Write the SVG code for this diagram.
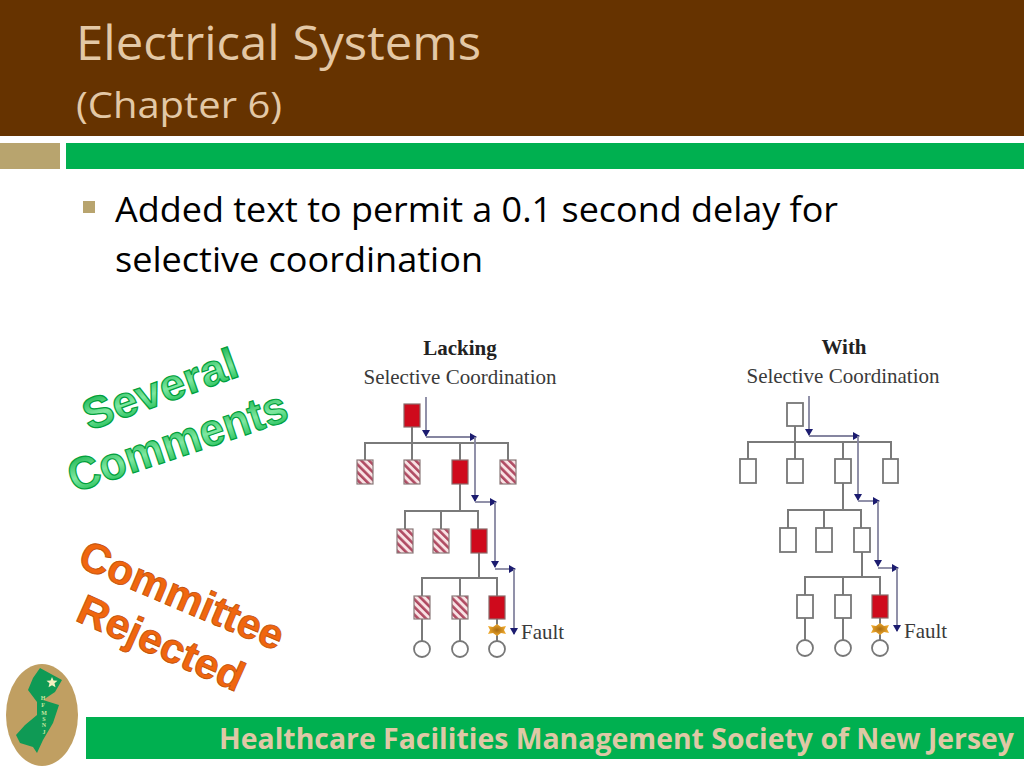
<svg xmlns="http://www.w3.org/2000/svg" width="1024" height="768" viewBox="0 0 1024 768">
<defs>
<style>
.body{font-family:"Open Sans","Liberation Sans",sans-serif}
.title{fill:#e3c8a6}
.serif{font-family:"Liberation Serif",serif;fill:#3a3a3a}
.w{fill:#fff;stroke:#777;stroke-width:1.8}
.r{fill:#cf0a1c;stroke:#8a6a6a;stroke-width:1.2}
.h{fill:url(#hatch);stroke:#8a7a7a;stroke-width:1.2}
.c{fill:#fff;stroke:#777;stroke-width:1.8}
.bus{fill:none;stroke:#7a7a7a;stroke-width:2}
.flow{fill:none;stroke:#8585a0;stroke-width:1.8;marker-end:url(#arr)}
.art{font-family:"Liberation Sans",sans-serif;font-weight:700}
.lt{font-family:"Liberation Serif",serif;font-size:6px;font-weight:700;fill:#c8e6a0;text-anchor:middle}
</style>
<marker id="arr" markerUnits="userSpaceOnUse" markerWidth="9" markerHeight="9" refX="6" refY="4" orient="auto"><path d="M0 0L7 4L0 8Z" fill="#1c1c70"/></marker>
<pattern id="hatch" width="5.5" height="5.5" patternUnits="userSpaceOnUse" patternTransform="rotate(-45)"><rect width="5.5" height="5.5" fill="#f8e2e4"/><rect width="2.6" height="5.5" fill="#b04a62"/></pattern>
<linearGradient id="gg" x1="0" y1="0" x2="0" y2="1"><stop offset="0" stop-color="#00a63c"/><stop offset=".55" stop-color="#7fe8a0"/><stop offset="1" stop-color="#00b040"/></linearGradient>
<radialGradient id="burst"><stop offset="0" stop-color="#a86a10"/><stop offset="1" stop-color="#efa92c"/></radialGradient>
</defs>
<rect width="1024" height="768" fill="#fff"/>
<g id="header">
<rect width="1024" height="136" fill="#663300"/>
<rect x="0" y="143" width="60" height="26" fill="#b8a46e"/>
<rect x="66" y="143" width="958" height="26" fill="#00b050"/>
<text class="body title" x="76" y="60" font-size="47" textLength="405" lengthAdjust="spacingAndGlyphs">Electrical Systems</text>
<text class="body title" x="76" y="118" font-size="37" textLength="206" lengthAdjust="spacingAndGlyphs">(Chapter 6)</text>
</g>
<g id="bullet">
<rect x="83" y="201" width="12" height="12" fill="#b8a46e"/>
<text class="body" x="115" y="222" font-size="34" fill="#000" textLength="723" lengthAdjust="spacingAndGlyphs">Added text to permit a 0.1 second delay for</text>
<text class="body" x="115" y="272" font-size="34" fill="#000" textLength="368" lengthAdjust="spacingAndGlyphs">selective coordination</text>
</g>
<g id="connectors">
<path class="bus" d="M412 427V443M365 460V443H508V460M412 443V460M460 443V460M460 484V511M405 529V511H478V529M441 511V529M479 553V578M422 596V578H497V596M460 578V596M422 619V641M460 619V641M497 619V641"/>
<path class="flow" d="M426 397V436"/><path class="flow" d="M426 437H476"/><path class="flow" d="M475 437V501"/><path class="flow" d="M475 502H496"/><path class="flow" d="M495 502V567"/><path class="flow" d="M495 569H515"/><path class="flow" d="M514 569V634"/>
<path class="bus" d="M795 426V442M748 459V442H891V459M795 442V459M843 442V459M843 483V510M788 528V510H861V528M824 510V528M862 552V577M805 595V577H880V595M843 577V595M805 618V640M843 618V640M880 618V640"/>
<path class="flow" d="M809 396V435"/><path class="flow" d="M809 436H859"/><path class="flow" d="M858 436V500"/><path class="flow" d="M858 501H879"/><path class="flow" d="M878 501V566"/><path class="flow" d="M878 568H898"/><path class="flow" d="M897 568V631"/>
</g>
<g id="lacking-labels" class="serif" text-anchor="middle">
<text x="460" y="355" font-size="21" font-weight="700" fill="#222">Lacking</text>
<text x="460" y="384" font-size="21">Selective Coordination</text>
</g>
<g id="l-main"><rect class="r" x="404" y="404" width="16" height="23"/></g>
<g id="l-a1"><rect class="h" x="357" y="460" width="16" height="24"/></g>
<g id="l-a2"><rect class="h" x="404" y="460" width="16" height="24"/></g>
<g id="l-a3"><rect class="r" x="452" y="460" width="16" height="24"/></g>
<g id="l-a4"><rect class="h" x="500" y="460" width="16" height="24"/></g>
<g id="l-b1"><rect class="h" x="397" y="529" width="16" height="24"/></g>
<g id="l-b2"><rect class="h" x="433" y="529" width="16" height="24"/></g>
<g id="l-b3"><rect class="r" x="471" y="529" width="16" height="24"/></g>
<g id="l-c1"><rect class="h" x="414" y="596" width="16" height="23"/></g>
<g id="l-c2"><rect class="h" x="452" y="596" width="16" height="23"/></g>
<g id="l-c3"><rect class="r" x="489" y="596" width="16" height="23"/></g>
<g id="l-load1"><circle class="c" cx="422" cy="649" r="8"/></g>
<g id="l-load2"><circle class="c" cx="460" cy="649" r="8"/></g>
<g id="l-load3"><circle class="c" cx="497" cy="649" r="8"/></g>
<g id="l-fault"><path d="M488 626l5 1 4-3 4 3 5-1-2 4 2 4-5-1-4 3-4-3-5 1 2-4z" fill="url(#burst)"/><text class="serif" x="521" y="639" font-size="21">Fault</text></g>
<g id="with-labels" class="serif" text-anchor="middle">
<text x="844" y="354" font-size="21" font-weight="700" fill="#222">With</text>
<text x="843" y="383" font-size="21">Selective Coordination</text>
</g>
<g id="w-main"><rect class="w" x="787" y="403" width="16" height="23"/></g>
<g id="w-a1"><rect class="w" x="740" y="459" width="16" height="24"/></g>
<g id="w-a2"><rect class="w" x="787" y="459" width="16" height="24"/></g>
<g id="w-a3"><rect class="w" x="835" y="459" width="16" height="24"/></g>
<g id="w-a4"><rect class="w" x="883" y="459" width="15" height="24"/></g>
<g id="w-b1"><rect class="w" x="780" y="528" width="16" height="24"/></g>
<g id="w-b2"><rect class="w" x="816" y="528" width="16" height="24"/></g>
<g id="w-b3"><rect class="w" x="854" y="528" width="16" height="24"/></g>
<g id="w-c1"><rect class="w" x="797" y="595" width="16" height="23"/></g>
<g id="w-c2"><rect class="w" x="835" y="595" width="16" height="23"/></g>
<g id="w-c3"><rect class="r" x="872" y="595" width="16" height="23"/></g>
<g id="w-load1"><circle class="c" cx="805" cy="648" r="8"/></g>
<g id="w-load2"><circle class="c" cx="843" cy="648" r="8"/></g>
<g id="w-load3"><circle class="c" cx="880" cy="648" r="8"/></g>
<g id="w-fault"><path d="M871 625l5 1 4-3 4 3 5-1-2 4 2 4-5-1-4 3-4-3-5 1 2-4z" fill="url(#burst)"/><text class="serif" x="904" y="638" font-size="21">Fault</text></g>
<g id="several" class="art" fill="url(#gg)" stroke="#00a03c" stroke-width="1.2">
<text transform="translate(89 431) rotate(-20)" font-size="44" textLength="162" lengthAdjust="spacingAndGlyphs">Several</text>
<text transform="translate(74 493) rotate(-18.7)" font-size="46" textLength="229" lengthAdjust="spacingAndGlyphs">Comments</text>
</g>
<g id="rejected" class="art" fill="#f0660f" stroke="#c05008" stroke-width=".8">
<text transform="translate(76 566) rotate(23)" font-size="42" textLength="218" lengthAdjust="spacingAndGlyphs">Committee</text>
<text transform="translate(74 620) rotate(24)" font-size="42" textLength="178" lengthAdjust="spacingAndGlyphs">Rejected</text>
</g>
<g id="logo">
<ellipse cx="42" cy="715" rx="36" ry="51" fill="#c09f62"/>
<path d="M40 668L62 680L55 692L43 700L59 705L53 723L43 740L37 753L33 747L20 743L16 735L25 725L37 715L37 702L28 690L33 678Z" fill="#0f9a55"/>
<path d="M52 677l1.500 3.500 4 .3-3 2.500 1 4-3.500-2-3.500 2 1-4-3-2.500 4-.3z" fill="#f2f0c0"/>
<text class="lt" x="43" y="700">H</text>
<text class="lt" x="43" y="707">F</text>
<text class="lt" x="44" y="715">M</text>
<text class="lt" x="44" y="721">S</text>
<text class="lt" x="44" y="727">N</text>
<text class="lt" x="44" y="734">J</text>
</g>
<g id="footer">
<rect x="86" y="717" width="938" height="42" fill="#00b050"/>
<text class="body" x="219" y="749" font-size="28" font-weight="700" fill="#dfc8a6" textLength="795" lengthAdjust="spacingAndGlyphs">Healthcare Facilities Management Society of New Jersey</text>
</g>
</svg>
